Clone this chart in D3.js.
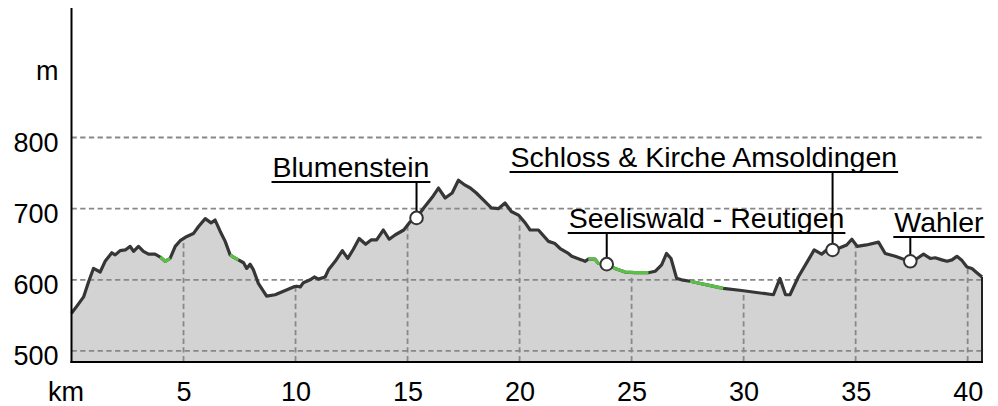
<!DOCTYPE html>
<html>
<head>
<meta charset="utf-8">
<script src="https://cdn.jsdelivr.net/npm/d3@7"></script>
<style>
	body { margin: 0; background: #fff; }
	svg { display: block; font-family: "Liberation Sans", Arial, sans-serif; }
</style>
</head>
<body>
<svg id="chart" width="998" height="406"></svg>
<script>
// profile, distance in km and elevation in m
const km = [0, 0.24, 0.54, 0.76, 0.98, 1.28, 1.50, 1.80, 1.95, 2.17,
	2.40, 2.62, 2.77, 2.99, 3.21, 3.44, 3.73, 3.96, 4.18, 4.40,
	4.63, 4.85, 5.15, 5.44, 5.67, 5.97, 6.23, 6.41, 6.64, 6.86,
	7.08, 7.23, 7.45, 7.68, 7.82, 7.97, 8.12, 8.34, 8.71, 9.09,
	9.54, 9.91, 10.05, 10.21, 10.35, 10.65, 10.84, 11.02, 11.32, 11.47,
	11.77, 12.09, 12.33, 12.58, 12.84, 13.13, 13.37, 13.62, 13.92, 14.18,
	14.44, 14.83, 15.10, 15.40, 15.72, 16.10, 16.38, 16.68, 16.99, 17.27,
	17.57, 17.80, 18.07, 18.46, 18.74, 19.05, 19.35, 19.63, 19.95, 20.25,
	20.47, 20.84, 21.29, 21.58, 21.81, 22.18, 22.33, 22.77, 22.92, 23.07,
	23.37, 23.52, 23.89, 24.26, 24.71, 25.15, 25.75, 26.05, 26.34, 26.56,
	26.76, 27.01, 27.23, 27.61, 29.09, 29.91, 31.33, 31.62, 31.87, 32.07,
	32.44, 32.89, 33.15, 33.48, 33.70, 33.97, 34.30, 34.60, 34.83, 35.07,
	35.48, 36.02, 36.32, 36.77, 37.14, 37.44, 37.74, 38.03, 38.33, 38.55,
	38.85, 39.08, 39.30, 39.52, 39.75, 39.97, 40.19, 40.41, 40.64];

const elevation = [553, 563, 576, 597, 616, 611, 626, 638, 635, 641,
	642, 647, 640, 647, 640, 636, 636, 632, 626, 630,
	647, 655, 661, 665, 675, 686, 680, 684, 668, 654,
	635, 632, 628, 624, 616, 622, 614, 595, 577, 579,
	585, 590, 591, 590, 596, 600, 604, 601, 604, 614,
	626, 641, 630, 643, 658, 650, 656, 656, 670, 657,
	663, 670, 681, 687, 701, 716, 729, 715, 722, 740,
	733, 729, 722, 710, 701, 700, 708, 696, 691, 680,
	670, 670, 654, 651, 644, 637, 633, 628, 626, 629,
	629, 623, 622, 616, 611, 610, 610, 612, 621, 637,
	630, 602, 600, 598, 588, 585, 579, 602, 579, 579,
	604, 628, 642, 636, 642, 642, 645, 649, 657, 647,
	649, 653, 637, 633, 629, 626, 630, 636, 630, 631,
	628, 626, 628, 633, 627, 618, 616, 610, 604];

// stretches drawn in green (from km, to km)
const greenStart = [3.96, 7.08, 23.07, 27.61];
const greenEnd = [4.40, 7.45, 25.75, 29.09];

// points of interest
const poiNames = ["Blumenstein", "Seeliswald - Reutigen", "Schloss & Kirche Amsoldingen", "Wahler"];
const poiKm = [15.40, 23.89, 33.97, 37.44];

const xTicks = [0, 5, 10, 15, 20, 25, 30, 35, 40];
const yTicks = [500, 600, 700, 800, 900];
const gridLevels = [500, 600, 700, 800];

// label placement (text start relative to the point, baseline in px)
const labelDx = [-144, -38, -322, -16];
const labelBaseline = [177, 228, 167, 232];

const svg = d3.select('#chart');
const plotLeft = 71.5, plotRight = 982, plotTop = 8, plotBottom = 362;

const x = d3.scaleLinear().domain([0, 40.64]).range([plotLeft, plotRight]);
const y = d3.scaleLinear().domain([484.5, 982]).range([plotBottom, plotTop]);

const profile = km.map((d, i) => ({ km: d, m: elevation[i] }));

function elevationAt(k) {
	let i = d3.bisector(d => d.km).left(profile, k);
	if (i <= 0) return profile[0].m;
	if (i >= profile.length) return profile[profile.length - 1].m;
	let a = profile[i - 1], b = profile[i];
	return a.m + (b.m - a.m) * (k - a.km) / (b.km - a.km);
}

const area = d3.area().x(d => x(d.km)).y0(plotBottom).y1(d => y(d.m));
const line = d3.line().x(d => x(d.km)).y(d => y(d.m));

svg.append('clipPath').attr('id', 'under')
	.append('path').attr('d', area(profile));

svg.append('path')
	.attr('d', area(profile))
	.attr('fill', '#d3d3d3');

// horizontal grid
svg.append('g').selectAll('line')
	.data(gridLevels)
	.join('line')
	.attr('x1', plotLeft).attr('x2', plotRight)
	.attr('y1', d => y(d)).attr('y2', d => y(d))
	.attr('stroke', '#888').attr('stroke-width', 1.8)
	.attr('stroke-dasharray', '5.3,3.4');

// vertical grid, only below the profile
svg.append('g').attr('clip-path', 'url(#under)')
	.selectAll('line')
	.data(xTicks.filter(d => d > 0))
	.join('line')
	.attr('x1', d => x(d)).attr('x2', d => x(d))
	.attr('y1', plotTop).attr('y2', plotBottom)
	.attr('stroke', '#888').attr('stroke-width', 1.8)
	.attr('stroke-dasharray', '5.3,3.4');

svg.append('path')
	.attr('d', line(profile))
	.attr('fill', 'none')
	.attr('stroke', '#363636')
	.attr('stroke-width', 3.2)
	.attr('stroke-linejoin', 'round');

greenStart.forEach((s, i) => {
	let e = greenEnd[i];
	let pts = [{ km: s, m: elevationAt(s) }]
		.concat(profile.filter(d => d.km > s && d.km < e))
		.concat([{ km: e, m: elevationAt(e) }]);
	svg.append('path')
		.attr('d', line(pts))
		.attr('fill', 'none')
		.attr('stroke', '#5cbf47')
		.attr('stroke-width', 3.2)
		.attr('stroke-linejoin', 'round');
});

// right edge and axes
svg.append('line')
	.attr('x1', plotRight).attr('x2', plotRight)
	.attr('y1', y(profile[profile.length - 1].m)).attr('y2', plotBottom)
	.attr('stroke', '#222').attr('stroke-width', 2);

svg.append('line')
	.attr('x1', plotLeft - 1).attr('x2', plotRight + 1)
	.attr('y1', plotBottom).attr('y2', plotBottom)
	.attr('stroke', '#000').attr('stroke-width', 2);

svg.append('line')
	.attr('x1', plotLeft).attr('x2', plotLeft)
	.attr('y1', plotTop).attr('y2', plotBottom + 1)
	.attr('stroke', '#000').attr('stroke-width', 2);

let xAxis = svg.append('g')
	.attr('transform', `translate(0,${plotBottom})`)
	.call(d3.axisBottom(x).tickValues(xTicks).tickSize(0)
		.tickFormat(d => d === 0 ? 'km' : d));
xAxis.select('.domain').remove();
xAxis.selectAll('text')
	.attr('y', 39).attr('dy', 0)
	.attr('dx', d => d === 0 ? -6 : 0)
	.attr('fill', '#000')
	.style('font-size', '27px');

let yAxis = svg.append('g')
	.attr('transform', `translate(${plotLeft},0)`)
	.call(d3.axisLeft(y).tickValues(yTicks).tickSize(0)
		.tickFormat(d => d === 900 ? 'm' : d));
yAxis.select('.domain').remove();
yAxis.selectAll('text')
	.attr('x', -13).attr('dy', '0.5em')
	.attr('fill', '#000')
	.style('font-size', '27px');

// points of interest
poiNames.forEach((name, i) => {
	let px = x(poiKm[i]);
	let py = y(elevationAt(poiKm[i]));
	let base = labelBaseline[i];

	let g = svg.append('g');
	let label = g.append('text')
		.attr('x', px + labelDx[i])
		.attr('y', base)
		.attr('fill', '#000')
		.style('font-size', '28.5px')
		.text(name);
	let w = label.node().getComputedTextLength();

	g.append('line')
		.attr('x1', px + labelDx[i] - 1).attr('x2', px + labelDx[i] + w + 1)
		.attr('y1', base + 5).attr('y2', base + 5)
		.attr('stroke', '#000').attr('stroke-width', 2);

	g.append('line')
		.attr('x1', px).attr('x2', px)
		.attr('y1', base + 5).attr('y2', py)
		.attr('stroke', '#000').attr('stroke-width', 2);

	g.append('circle')
		.attr('cx', px).attr('cy', py).attr('r', 6.3)
		.attr('fill', '#fff')
		.attr('stroke', '#333').attr('stroke-width', 2);
});
</script>
</body>
</html>
